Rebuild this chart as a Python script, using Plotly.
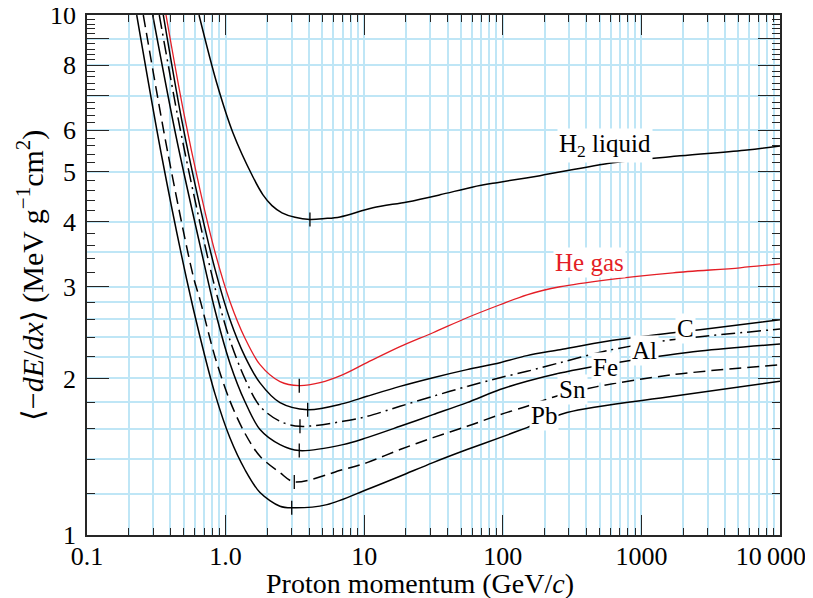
import plotly.graph_objects as go

FONT = "Liberation Serif"
GRID = "#bfe6f6"
AXIS = "#262626"
RED = "#e41e26"

# ---------------- data ----------------
h2_p = [0.643, 0.863, 1.131, 1.576, 1.861, 2.161, 2.552, 3.168, 4.06, 5.21, 6.69, 11.57, 20.4, 35.2, 61, 90.8, 185.5, 624, 1898, 5780, 10000]
h2_v = [10.0, 7.40, 5.93, 4.88, 4.51, 4.30, 4.165, 4.083, 4.045, 4.06, 4.09, 4.26, 4.37, 4.51, 4.67, 4.76, 4.91, 5.20, 5.36, 5.50, 5.60]

he_p = [0.3715, 0.4927, 0.6535, 0.8385, 1.076, 1.380, 1.771, 2.469, 3.40, 4.80, 7.03, 10.48, 18.13, 31.36, 55.2, 95.4, 149.5, 258.6, 564.6, 1690, 5145, 10000]
he_v = [10.0, 6.6, 4.61, 3.50, 2.81, 2.39, 2.126, 1.972, 1.937, 1.963, 2.034, 2.145, 2.302, 2.449, 2.617, 2.772, 2.897, 3.002, 3.096, 3.193, 3.265, 3.323]

c_p = [0.3552, 0.4814, 0.6535, 0.8385, 1.076, 1.380, 1.771, 2.469, 3.91, 7.03, 10.48, 18.13, 31.36, 55.2, 95.4, 149.5, 258.6, 564.6, 1690, 2647, 10000]
c_v = [10.0, 6.3, 4.28, 3.245, 2.594, 2.203, 1.961, 1.797, 1.742, 1.789, 1.848, 1.931, 2.007, 2.080, 2.145, 2.213, 2.272, 2.359, 2.449, 2.482, 2.594]

al_p = [0.3323, 0.4665, 0.6535, 0.8385, 1.076, 1.380, 1.771, 2.469, 3.44, 7.03, 10.48, 18.13, 31.36, 55.2, 95.4, 149.5, 258.6, 564.6, 1362, 2647, 10000]
al_v = [10.0, 6.1, 3.98, 2.988, 2.368, 1.997, 1.768, 1.654, 1.618, 1.654, 1.691, 1.768, 1.848, 1.931, 2.007, 2.064, 2.145, 2.262, 2.357, 2.406, 2.489]

fe_p = [0.2979, 0.4416, 0.6535, 0.8385, 1.076, 1.380, 1.771, 2.469, 3.40, 7.03, 10.48, 18.13, 31.36, 55.2, 95.4, 149.5, 258.6, 405, 787, 2647, 10000]
fe_v = [10.0, 5.8, 3.61, 2.705, 2.138, 1.804, 1.595, 1.492, 1.453, 1.492, 1.539, 1.618, 1.704, 1.797, 1.904, 1.975, 2.049, 2.098, 2.160, 2.258, 2.330]

sn_p = [0.2548, 0.386, 0.5848, 0.6535, 0.8385, 1.076, 1.380, 1.771, 2.469, 3.13, 7.03, 10.48, 18.13, 31.36, 55.2, 95.4, 149.5, 230, 478, 1690, 10000]
sn_v = [10.0, 5.37, 3.14, 2.835, 2.200, 1.809, 1.568, 1.417, 1.318, 1.265, 1.336, 1.378, 1.460, 1.539, 1.618, 1.704, 1.768, 1.841, 1.929, 2.034, 2.126]

pb_p = [0.2284, 0.346, 0.524, 0.6535, 0.8385, 1.076, 1.380, 1.771, 2.469, 3.0, 5.39, 10.48, 18.13, 31.36, 55.2, 95.4, 149.5, 290.5, 1690, 10000]
pb_v = [10.0, 5.35, 3.10, 2.406, 1.868, 1.536, 1.335, 1.207, 1.136, 1.128, 1.144, 1.223, 1.297, 1.378, 1.460, 1.539, 1.609, 1.720, 1.848, 1.975]

# minimum-ionization markers
min_p = [4.06, 3.40, 3.91, 3.44, 3.40, 3.13, 3.0]
min_v = [4.045, 1.937, 1.742, 1.618, 1.453, 1.265, 1.128]

# axis ticks
x_major = [0.1, 1, 10, 100, 1000, 10000]
x_major_text = ["0.1", "1.0", "10", "100", "1000", "10\u2009000\u2002\u2009"]
x_minor = [m * d for d in [0.1, 1, 10, 100, 1000] for m in range(2, 10)]
y_major = [1, 2, 3, 4, 5, 6, 7, 8, 9, 10]
y_major_text = ["1", "2", "3", "4", "5", "6", " ", "8", " ", "10"]
y_minor = [round(1 + 0.2 * i, 1) for i in range(1, 45) if abs((1 + 0.2 * i) - round(1 + 0.2 * i)) > 1e-6]
y_grid = [1.2, 1.4, 1.6, 1.8, 2, 2.2, 2.4, 2.6, 2.8, 3, 3.5, 4, 5, 6, 7, 8, 9]

series = [
    ("H2 liquid", h2_p, h2_v, "black", "solid", 1.5),
    ("He gas", he_p, he_v, RED, "solid", 1.3),
    ("C", c_p, c_v, "black", "solid", 1.5),
    ("Al", al_p, al_v, "black", "14px,5px,2px,5px", 1.5),
    ("Fe", fe_p, fe_v, "black", "solid", 1.5),
    ("Sn", sn_p, sn_v, "black", "12px,6px", 1.5),
    ("Pb", pb_p, pb_v, "black", "solid", 1.5),
]

fig = go.Figure()
# empty trace that creates the overlay axis carrying the horizontal grid
fig.add_trace(go.Scatter(x=[], y=[], yaxis="y2", showlegend=False, hoverinfo="skip"))
for name, xs, ys, col, dash, w in series:
    fig.add_trace(go.Scatter(
        x=xs, y=ys, mode="lines", name=name, showlegend=False,
        line=dict(color=col, dash=dash, width=w, shape="spline", smoothing=0.9),
        hoverinfo="skip",
    ))
fig.add_trace(go.Scatter(
    x=min_p, y=min_v, mode="markers", showlegend=False, hoverinfo="skip",
    marker=dict(symbol="line-ns-open", size=10, color="black", line=dict(color="black", width=1.3)),
))

tickfont = dict(family=FONT, size=26, color="black")
fig.update_layout(
    template="none",
    width=805, height=590,
    margin=dict(l=79, r=33, t=7, b=62.5, pad=0, autoexpand=False),
    paper_bgcolor="white", plot_bgcolor="white",
    hovermode=False,
    font=dict(family=FONT, color="black"),
    xaxis=dict(
        type="log", range=[-1, 4], showline=True, linecolor=AXIS, linewidth=1.5,
        mirror="ticks", ticks="inside", ticklen=20, tickwidth=1.3, tickcolor=AXIS,
        tickmode="array", tickvals=x_major, ticktext=x_major_text, tickfont=tickfont,
        ticklabelstandoff=-3, ticklabeloverflow="allow", automargin=False,
        showgrid=True, gridcolor=GRID, gridwidth=1.6, zeroline=False,
        minor=dict(tickmode="array", tickvals=x_minor, ticks="inside", ticklen=7,
                   tickwidth=1.3, tickcolor=AXIS, showgrid=True, gridcolor=GRID, gridwidth=1.6),
    ),
    yaxis=dict(
        type="log", range=[0, 1], showline=True, linecolor=AXIS, linewidth=1.5,
        mirror="ticks", ticks="inside", ticklen=22, tickwidth=1.3, tickcolor=AXIS,
        tickmode="array", tickvals=y_major, ticktext=y_major_text, tickfont=tickfont,
        ticklabelstandoff=4, ticklabeloverflow="allow", automargin=False,
        showgrid=False, zeroline=False,
        minor=dict(tickmode="array", tickvals=y_minor, ticks="inside", ticklen=8,
                   tickwidth=1.3, tickcolor=AXIS, showgrid=False),
    ),
    yaxis2=dict(
        type="log", range=[0, 1], overlaying="y", side="left", automargin=False,
        tickmode="array", tickvals=y_grid, showticklabels=False, ticks="",
        showgrid=True, gridcolor=GRID, gridwidth=1.6, showline=False, zeroline=False,
    ),
)

labels = [
    ("H<sub>2</sub> liquid", 0.7475, 0.750, "black"),
    ("He gas", 0.7244, 0.5235, RED),
    ("C", 0.8636, 0.3967, "black"),
    ("Al", 0.8038, 0.3545, "black"),
    ("Fe", 0.7489, 0.3218, "black"),
    ("Sn", 0.6999, 0.2795, "black"),
    ("Pb", 0.6595, 0.2296, "black"),
]
for txt, x, y, col in labels:
    fig.add_annotation(text=txt, x=x, y=y, xref="paper", yref="paper", showarrow=False,
                       xanchor="center", yanchor="middle", bgcolor="white", borderpad=1,
                       font=dict(family=FONT, size=25, color=col))

fig.add_annotation(text="Proton momentum (GeV/<i>c</i>)", x=0.4805, y=-0.094,
                   xref="paper", yref="paper", showarrow=False, xanchor="center", yanchor="middle",
                   font=dict(family=FONT, size=28, color="black"))
fig.add_annotation(text="\u27e8\u2212<i>dE</i>/<i>dx</i>\u27e9 (MeV g<sup>\u22121</sup>cm<sup>2</sup>)",
                   x=-0.082, y=0.5, xref="paper", yref="paper", showarrow=False, textangle=-90,
                   xanchor="center", yanchor="middle",
                   font=dict(family=FONT, size=30, color="black"))

fig.write_html("out.html")
